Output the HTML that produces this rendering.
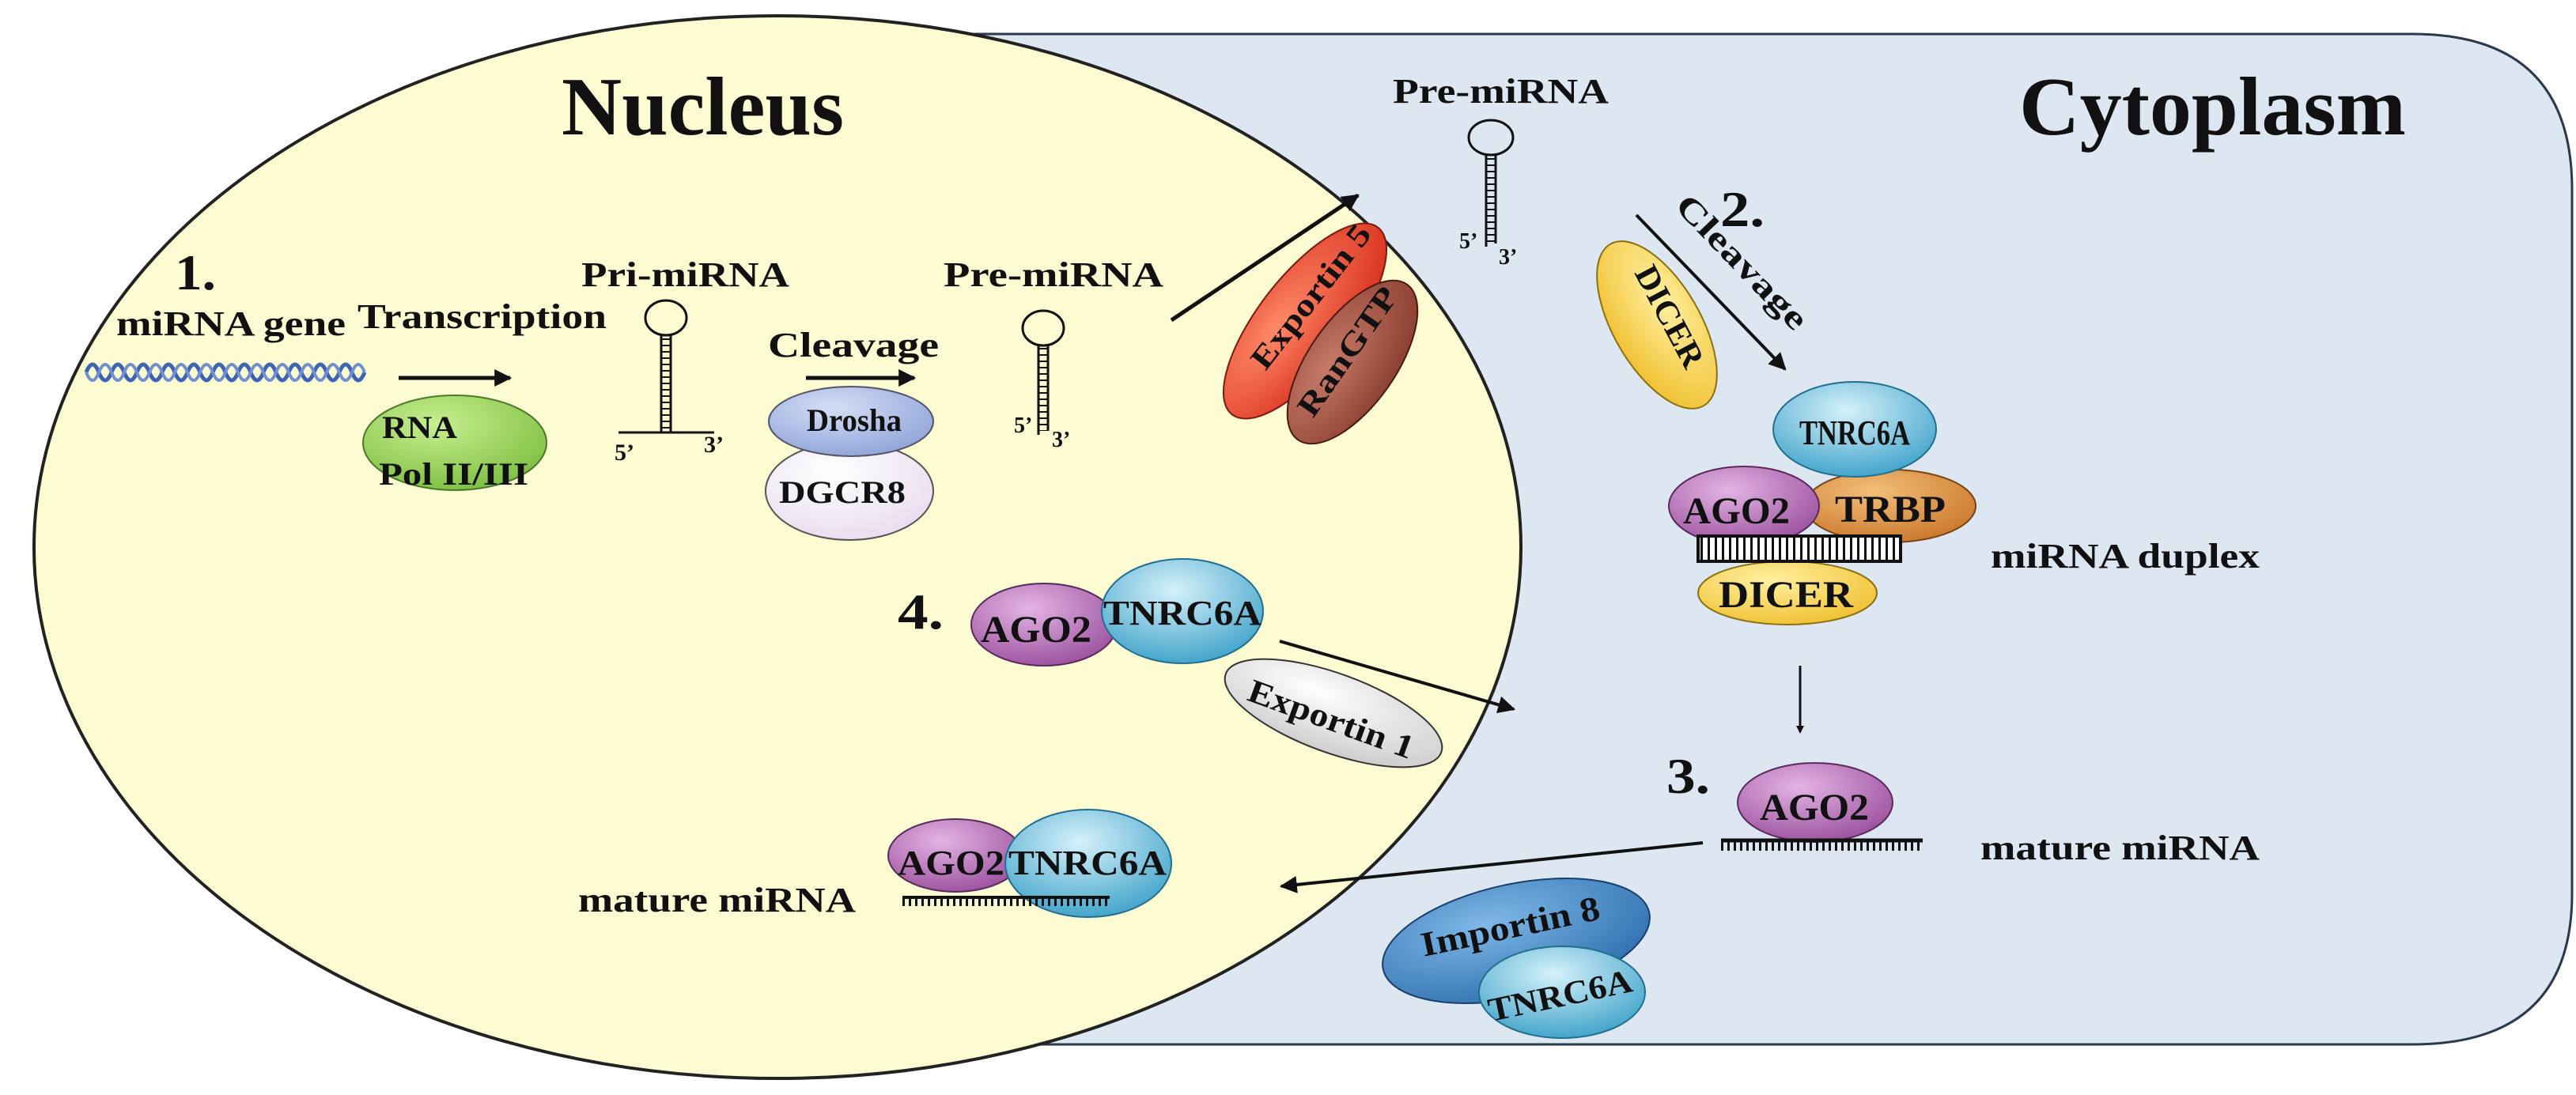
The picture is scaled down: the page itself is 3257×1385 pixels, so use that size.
<!DOCTYPE html>
<html><head><meta charset="utf-8"><style>
html,body{margin:0;padding:0;background:#fff;}
svg{display:block;}
text{font-family:"Liberation Serif",serif;font-weight:bold;fill:#111;}
</style></head><body>
<svg width="3257" height="1385" viewBox="0 0 3257 1385" xmlns="http://www.w3.org/2000/svg">
<defs>
<marker id="ah" markerWidth="10" markerHeight="10" refX="8" refY="5" orient="auto" markerUnits="userSpaceOnUse" viewBox="0 0 10 10">
<path d="M0,0 L10,5 L0,10 z" fill="#111"/></marker>
<marker id="ah2" viewBox="0 0 10 10" refX="9" refY="5" markerWidth="22" markerHeight="22" orient="auto" markerUnits="userSpaceOnUse"><path d="M0,0 L10,5 L0,10 z" fill="#111"/></marker>
<radialGradient id="gP" cx="40%" cy="30%" r="75%"><stop offset="0" stop-color="#e3b4e4"/><stop offset="1" stop-color="#9a4f9c"/></radialGradient>
<radialGradient id="gT" cx="45%" cy="30%" r="75%"><stop offset="0" stop-color="#d6f1fa"/><stop offset="1" stop-color="#3aa0c8"/></radialGradient>
<radialGradient id="gO" cx="40%" cy="30%" r="75%"><stop offset="0" stop-color="#f3bf7a"/><stop offset="1" stop-color="#c9772a"/></radialGradient>
<radialGradient id="gY" cx="40%" cy="30%" r="75%"><stop offset="0" stop-color="#fff0a0"/><stop offset="1" stop-color="#f0c030"/></radialGradient>
<radialGradient id="gR" cx="40%" cy="30%" r="75%"><stop offset="0" stop-color="#ff8a6a"/><stop offset="1" stop-color="#d8301c"/></radialGradient>
<radialGradient id="gBr" cx="40%" cy="30%" r="75%"><stop offset="0" stop-color="#c77a68"/><stop offset="1" stop-color="#8a3e30"/></radialGradient>
<radialGradient id="gB" cx="40%" cy="30%" r="75%"><stop offset="0" stop-color="#7fb8e8"/><stop offset="1" stop-color="#2e6fae"/></radialGradient>
<radialGradient id="gG" cx="40%" cy="30%" r="75%"><stop offset="0" stop-color="#c8ee90"/><stop offset="1" stop-color="#7cbf40"/></radialGradient>
<radialGradient id="gDr" cx="40%" cy="30%" r="75%"><stop offset="0" stop-color="#d5def5"/><stop offset="1" stop-color="#8ea3d8"/></radialGradient>
<radialGradient id="gDg" cx="40%" cy="30%" r="75%"><stop offset="0" stop-color="#ffffff"/><stop offset="1" stop-color="#e8dcef"/></radialGradient>
<radialGradient id="gW" cx="40%" cy="30%" r="75%"><stop offset="0" stop-color="#ffffff"/><stop offset="1" stop-color="#cccccc"/></radialGradient>
</defs>

<!-- cytoplasm -->
<path d="M1177,43 L3050,43 Q3252,43 3252,240 L3252,1130 Q3252,1321 3050,1321 L1177,1321 Z" fill="#dde7f2" stroke="#2a3a4c" stroke-width="3"/>
<!-- nucleus -->
<ellipse cx="983" cy="692" rx="940" ry="672" fill="#fdfbd2" stroke="#222" stroke-width="4"/>

<text x="710" y="170" font-size="105" textLength="357" lengthAdjust="spacingAndGlyphs">Nucleus</text>
<text x="2553" y="170" font-size="105" textLength="489" lengthAdjust="spacingAndGlyphs">Cytoplasm</text>

<!-- Step 1 -->
<text x="221" y="366" font-size="64" textLength="52" lengthAdjust="spacingAndGlyphs">1.</text>
<text x="147" y="424" font-size="44" textLength="290" lengthAdjust="spacingAndGlyphs">miRNA gene</text>
<text x="452" y="415" font-size="44" textLength="315" lengthAdjust="spacingAndGlyphs">Transcription</text>
<path d="M109,471 q8,-20 16,0 t16,0 t16,0 t16,0 t16,0 t16,0 t16,0 t16,0 t16,0 t16,0 t16,0 t16,0 t16,0 t16,0 t16,0 t16,0 t16,0 t16,0 t16,0 t16,0 t16,0 t16,0" fill="none" stroke="#3c64b4" stroke-width="5"/>
<path d="M109,471 q8,20 16,0 t16,0 t16,0 t16,0 t16,0 t16,0 t16,0 t16,0 t16,0 t16,0 t16,0 t16,0 t16,0 t16,0 t16,0 t16,0 t16,0 t16,0 t16,0 t16,0 t16,0 t16,0" fill="none" stroke="#6f90d0" stroke-width="4"/>
<line x1="504" y1="478" x2="645" y2="478" stroke="#111" stroke-width="5" marker-end="url(#ah2)"/>
<ellipse cx="575" cy="560" rx="116" ry="60" fill="url(#gG)" stroke="#4a7a2a" stroke-width="2"/>
<text x="483" y="554" font-size="40" textLength="95" lengthAdjust="spacingAndGlyphs">RNA</text>
<text x="479" y="613" font-size="40" textLength="189" lengthAdjust="spacingAndGlyphs">Pol II/III</text>

<!-- Pri-miRNA -->
<text x="735" y="362" font-size="44" textLength="263" lengthAdjust="spacingAndGlyphs">Pri-miRNA</text>
<ellipse cx="842" cy="402" rx="26" ry="22" fill="none" stroke="#111" stroke-width="3"/>
<line x1="836" y1="422" x2="836" y2="547" stroke="#111" stroke-width="3"/>
<line x1="848" y1="422" x2="848" y2="547" stroke="#111" stroke-width="3"/>
<line x1="842" y1="428" x2="842" y2="545" stroke="#111" stroke-width="12" stroke-dasharray="2 6"/>
<line x1="782" y1="547" x2="903" y2="547" stroke="#111" stroke-width="3"/>
<text x="777" y="582" font-size="30">5’</text>
<text x="890" y="572" font-size="30">3’</text>

<!-- Cleavage Drosha -->
<text x="971" y="451" font-size="44" textLength="216" lengthAdjust="spacingAndGlyphs">Cleavage</text>
<line x1="1019" y1="478" x2="1156" y2="478" stroke="#111" stroke-width="5" marker-end="url(#ah2)"/>
<ellipse cx="1074" cy="621" rx="106" ry="62" fill="url(#gDg)" stroke="#555" stroke-width="2"/>
<ellipse cx="1076" cy="533" rx="104" ry="44" fill="url(#gDr)" stroke="#556" stroke-width="2"/>
<text x="1020" y="545" font-size="40" textLength="120" lengthAdjust="spacingAndGlyphs">Drosha</text>
<text x="985" y="636" font-size="40" textLength="160" lengthAdjust="spacingAndGlyphs">DGCR8</text>

<!-- Pre-miRNA nucleus -->
<text x="1193" y="362" font-size="44" textLength="278" lengthAdjust="spacingAndGlyphs">Pre-miRNA</text>
<ellipse cx="1319" cy="415" rx="26" ry="22" fill="none" stroke="#111" stroke-width="3"/>
<line x1="1313" y1="435" x2="1313" y2="550" stroke="#111" stroke-width="3"/>
<line x1="1325" y1="435" x2="1325" y2="545" stroke="#111" stroke-width="3"/>
<line x1="1319" y1="440" x2="1319" y2="545" stroke="#111" stroke-width="12" stroke-dasharray="2 6"/>
<text x="1282" y="547" font-size="28">5’</text>
<text x="1330" y="565" font-size="28">3’</text>

<!-- export arrow + Exportin 5 -->
<line x1="1481" y1="405" x2="1717" y2="247" stroke="#111" stroke-width="5" marker-end="url(#ah2)"/>
<ellipse cx="1650" cy="406" rx="150" ry="58" transform="rotate(-52 1650 406)" fill="url(#gR)" stroke="#7a1a10" stroke-width="2"/>
<ellipse cx="1710" cy="458" rx="120" ry="55" transform="rotate(-55 1710 458)" fill="url(#gBr)" stroke="#4a1a12" stroke-width="2"/>
<text transform="translate(1600,470) rotate(-52)" font-size="40" textLength="220" lengthAdjust="spacingAndGlyphs">Exportin 5</text>
<text transform="translate(1660,530) rotate(-55)" font-size="40" textLength="190" lengthAdjust="spacingAndGlyphs">RanGTP</text>

<!-- Pre-miRNA cytoplasm -->
<text x="1761" y="130" font-size="44" textLength="273" lengthAdjust="spacingAndGlyphs">Pre-miRNA</text>
<ellipse cx="1885" cy="174" rx="28" ry="22" fill="none" stroke="#111" stroke-width="3"/>
<line x1="1879" y1="194" x2="1879" y2="312" stroke="#111" stroke-width="3"/>
<line x1="1891" y1="194" x2="1891" y2="308" stroke="#111" stroke-width="3"/>
<line x1="1885" y1="200" x2="1885" y2="308" stroke="#111" stroke-width="12" stroke-dasharray="2 6"/>
<text x="1845" y="314" font-size="28">5’</text>
<text x="1895" y="334" font-size="28">3’</text>

<!-- Step 2 -->
<text x="2175" y="286" font-size="64" textLength="56" lengthAdjust="spacingAndGlyphs">2.</text>
<line x1="2069" y1="272" x2="2257" y2="467" stroke="#111" stroke-width="4" marker-end="url(#ah2)"/>
<text transform="translate(2116,262) rotate(46)" font-size="42" textLength="220" lengthAdjust="spacingAndGlyphs">Cleavage</text>
<ellipse cx="2095" cy="411" rx="118" ry="55" transform="rotate(60 2095 411)" fill="url(#gY)" stroke="#8a7010" stroke-width="2"/>
<text transform="translate(2066,345) rotate(62)" font-size="42" textLength="140" lengthAdjust="spacingAndGlyphs">DICER</text>

<!-- RISC loading complex -->
<ellipse cx="2390" cy="640" rx="108" ry="46" fill="url(#gO)" stroke="#7a4510" stroke-width="2"/>
<ellipse cx="2205" cy="640" rx="95" ry="50" fill="url(#gP)" stroke="#5a2a5c" stroke-width="2"/>
<ellipse cx="2345" cy="543" rx="103" ry="60" fill="url(#gT)" stroke="#1f6f8f" stroke-width="2"/>
<ellipse cx="2260" cy="750" rx="113" ry="40" fill="url(#gY)" stroke="#8a7010" stroke-width="2"/>
<rect x="2147" y="678" width="256" height="32" fill="#fff" stroke="#111" stroke-width="4"/>
<line x1="2150" y1="694" x2="2400" y2="694" stroke="#111" stroke-width="28" stroke-dasharray="3 6"/>
<text x="2275" y="562" font-size="44" textLength="140" lengthAdjust="spacingAndGlyphs">TNRC6A</text>
<text x="2128" y="662" font-size="48" textLength="135" lengthAdjust="spacingAndGlyphs">AGO2</text>
<text x="2320" y="660" font-size="48" textLength="140" lengthAdjust="spacingAndGlyphs">TRBP</text>
<text x="2173" y="768" font-size="48" textLength="170" lengthAdjust="spacingAndGlyphs">DICER</text>
<text x="2517" y="718" font-size="44" textLength="340" lengthAdjust="spacingAndGlyphs">miRNA duplex</text>

<line x1="2276" y1="842" x2="2276" y2="926" stroke="#111" stroke-width="3" marker-end="url(#ah)"/>

<!-- Step 3 -->
<text x="2107" y="1003" font-size="64" textLength="55" lengthAdjust="spacingAndGlyphs">3.</text>
<ellipse cx="2295" cy="1015" rx="98" ry="50" fill="url(#gP)" stroke="#5a2a5c" stroke-width="2"/>
<text x="2225" y="1037" font-size="48" textLength="138" lengthAdjust="spacingAndGlyphs">AGO2</text>
<line x1="2176" y1="1063" x2="2431" y2="1063" stroke="#111" stroke-width="5"/>
<line x1="2176" y1="1070" x2="2431" y2="1070" stroke="#111" stroke-width="12" stroke-dasharray="3 5"/>
<text x="2504" y="1087" font-size="44" textLength="353" lengthAdjust="spacingAndGlyphs">mature miRNA</text>

<line x1="2153" y1="1066" x2="1620" y2="1121" stroke="#111" stroke-width="4" marker-end="url(#ah2)"/>
<ellipse cx="1917" cy="1190" rx="172" ry="72" transform="rotate(-12 1917 1190)" fill="url(#gB)" stroke="#1a3f6a" stroke-width="2"/>
<text transform="translate(1800,1210) rotate(-12)" font-size="44" textLength="230" lengthAdjust="spacingAndGlyphs">Importin 8</text>
<ellipse cx="1975" cy="1255" rx="105" ry="58" fill="url(#gT)" stroke="#1f6f8f" stroke-width="2"/>
<text transform="translate(1885,1292) rotate(-12)" font-size="42" textLength="185" lengthAdjust="spacingAndGlyphs">TNRC6A</text>

<!-- Step 4 -->
<text x="1135" y="795" font-size="64" textLength="58" lengthAdjust="spacingAndGlyphs">4.</text>
<ellipse cx="1320" cy="790" rx="92" ry="52" fill="url(#gP)" stroke="#5a2a5c" stroke-width="2"/>
<ellipse cx="1495" cy="773" rx="102" ry="66" fill="url(#gT)" stroke="#1f6f8f" stroke-width="2"/>
<text x="1240" y="812" font-size="48" textLength="140" lengthAdjust="spacingAndGlyphs">AGO2</text>
<text x="1395" y="790" font-size="44" textLength="200" lengthAdjust="spacingAndGlyphs">TNRC6A</text>
<line x1="1618" y1="811" x2="1914" y2="897" stroke="#111" stroke-width="4" marker-end="url(#ah2)"/>
<ellipse cx="1686" cy="902" rx="145" ry="50" transform="rotate(20 1686 902)" fill="url(#gW)" stroke="#333" stroke-width="2"/>
<text transform="translate(1575,885) rotate(20)" font-size="42" textLength="220" lengthAdjust="spacingAndGlyphs">Exportin 1</text>

<!-- mature complex in nucleus -->
<ellipse cx="1208" cy="1082" rx="85" ry="46" fill="url(#gP)" stroke="#5a2a5c" stroke-width="2"/>
<ellipse cx="1376" cy="1092" rx="105" ry="68" fill="url(#gT)" stroke="#1f6f8f" stroke-width="2"/>
<text x="1135" y="1106" font-size="44" textLength="135" lengthAdjust="spacingAndGlyphs">AGO2</text>
<text x="1275" y="1106" font-size="44" textLength="200" lengthAdjust="spacingAndGlyphs">TNRC6A</text>
<line x1="1141" y1="1135" x2="1403" y2="1135" stroke="#111" stroke-width="4"/>
<line x1="1141" y1="1141" x2="1403" y2="1141" stroke="#111" stroke-width="10" stroke-dasharray="3 5"/>
<text x="731" y="1153" font-size="44" textLength="351" lengthAdjust="spacingAndGlyphs">mature miRNA</text>
</svg>
</body></html>
